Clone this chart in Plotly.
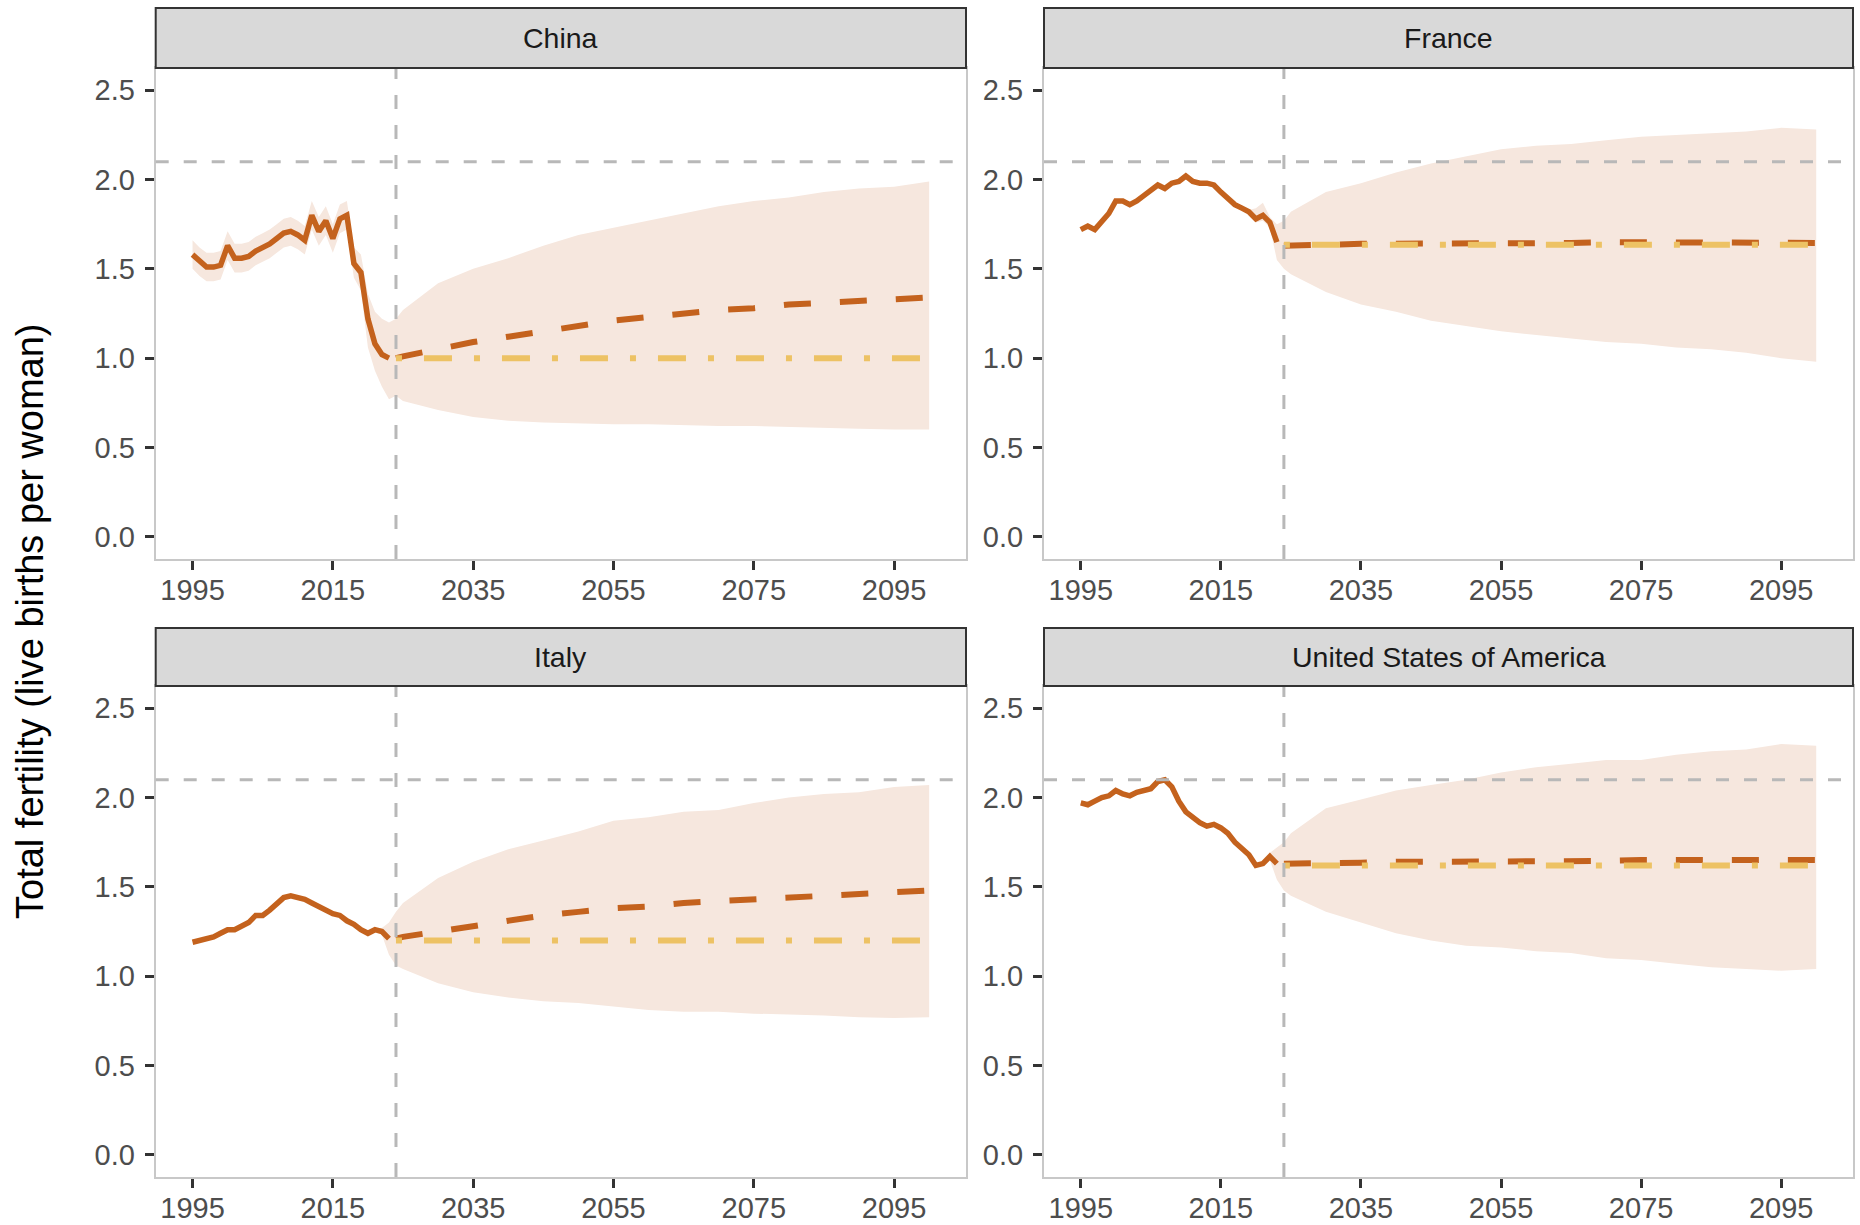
import plotly.graph_objects as go

# ---------------- data ----------------
countries = ["China", "France", "Italy", "United States of America"]

hist_years = list(range(1995, 2024))
tail_years = [2019, 2020, 2021, 2022, 2023]
proj_years = [2024, 2025, 2030, 2035, 2040, 2045, 2050, 2055, 2060, 2065,
              2070, 2075, 2080, 2085, 2090, 2095, 2100]

x_ticks = [1995, 2015, 2035, 2055, 2075, 2095]
y_ticks = [0.0, 0.5, 1.0, 1.5, 2.0, 2.5]

PROJ_START = 2024
REPLACEMENT = 2.1

# China
china_hist = [1.58, 1.54, 1.51, 1.51, 1.52, 1.63, 1.56, 1.56, 1.57, 1.60, 1.62, 1.64, 1.67, 1.70, 1.71,
              1.69, 1.66, 1.80, 1.71, 1.77, 1.67, 1.78, 1.80, 1.53, 1.48, 1.22, 1.08, 1.02, 1.00]
china_hist_hi = [1.66, 1.62, 1.59, 1.59, 1.60, 1.71, 1.64, 1.64, 1.65, 1.68, 1.70, 1.72, 1.75, 1.78, 1.79,
                 1.77, 1.74, 1.88, 1.79, 1.85, 1.75, 1.86, 1.88, 1.62, 1.58, 1.36, 1.26, 1.22, 1.20]
china_hist_lo = [1.50, 1.46, 1.43, 1.43, 1.44, 1.55, 1.48, 1.48, 1.49, 1.52, 1.54, 1.56, 1.59, 1.62, 1.63,
                 1.61, 1.58, 1.72, 1.63, 1.69, 1.59, 1.70, 1.72, 1.45, 1.38, 1.06, 0.93, 0.84, 0.77]
china_proj_hi = [1.22, 1.27, 1.42, 1.50, 1.56, 1.63, 1.69, 1.73, 1.77, 1.81, 1.85, 1.88, 1.90, 1.93, 1.95, 1.96, 1.99]
china_proj_lo = [0.79, 0.76, 0.71, 0.67, 0.65, 0.64, 0.635, 0.63, 0.63, 0.625, 0.62, 0.62, 0.615, 0.61, 0.605, 0.60, 0.60]
china_median = [1.00, 1.01, 1.05, 1.09, 1.12, 1.15, 1.18, 1.21, 1.23, 1.25, 1.27, 1.28, 1.30, 1.31, 1.32, 1.33, 1.34]
china_const = 1.00

# France
france_hist = [1.72, 1.74, 1.72, 1.76, 1.81, 1.88, 1.88, 1.86, 1.88, 1.91, 1.94, 1.97, 1.95, 1.98, 1.99,
               2.02, 1.99, 1.98, 1.98, 1.97, 1.93, 1.89, 1.86, 1.84, 1.82, 1.78, 1.80, 1.76, 1.65]
france_tail_hi = [1.83, 1.84, 1.87, 1.79, 1.75]
france_tail_lo = [1.81, 1.76, 1.77, 1.73, 1.55]
france_proj_hi = [1.77, 1.82, 1.93, 1.98, 2.04, 2.09, 2.13, 2.17, 2.19, 2.20, 2.22, 2.24, 2.25, 2.26, 2.27, 2.29, 2.28]
france_proj_lo = [1.50, 1.47, 1.37, 1.30, 1.26, 1.21, 1.18, 1.15, 1.13, 1.11, 1.09, 1.08, 1.06, 1.05, 1.03, 1.00, 0.98]
france_median = [1.63, 1.63, 1.635, 1.64, 1.64, 1.64, 1.645, 1.645, 1.645, 1.645, 1.65, 1.65, 1.645, 1.645, 1.645, 1.645, 1.645]
france_const = 1.635

# Italy
italy_hist = [1.19, 1.20, 1.21, 1.22, 1.24, 1.26, 1.26, 1.28, 1.30, 1.34, 1.34, 1.37, 1.41, 1.44, 1.45,
              1.44, 1.43, 1.41, 1.39, 1.37, 1.35, 1.34, 1.31, 1.29, 1.26, 1.24, 1.26, 1.25, 1.21]
italy_tail_hi = [1.27, 1.25, 1.27, 1.27, 1.30]
italy_tail_lo = [1.25, 1.23, 1.25, 1.23, 1.12]
italy_proj_hi = [1.36, 1.41, 1.55, 1.64, 1.71, 1.76, 1.81, 1.87, 1.89, 1.92, 1.93, 1.97, 2.00, 2.02, 2.03, 2.06, 2.07]
italy_proj_lo = [1.06, 1.04, 0.96, 0.91, 0.88, 0.86, 0.85, 0.83, 0.81, 0.80, 0.80, 0.79, 0.785, 0.78, 0.77, 0.765, 0.77]
italy_median = [1.21, 1.22, 1.25, 1.28, 1.31, 1.34, 1.36, 1.38, 1.39, 1.41, 1.42, 1.43, 1.44, 1.45, 1.46, 1.47, 1.48]
italy_const = 1.20

# United States of America
usa_hist = [1.97, 1.96, 1.98, 2.00, 2.01, 2.04, 2.02, 2.01, 2.03, 2.04, 2.05, 2.09, 2.10, 2.06, 1.98,
            1.92, 1.89, 1.86, 1.84, 1.85, 1.83, 1.80, 1.75, 1.71, 1.68, 1.62, 1.63, 1.67, 1.63]
usa_tail_hi = [1.69, 1.63, 1.64, 1.69, 1.72]
usa_tail_lo = [1.67, 1.61, 1.62, 1.65, 1.54]
usa_proj_hi = [1.75, 1.80, 1.94, 1.99, 2.04, 2.07, 2.10, 2.14, 2.17, 2.19, 2.21, 2.21, 2.24, 2.26, 2.27, 2.30, 2.29]
usa_proj_lo = [1.48, 1.45, 1.36, 1.30, 1.24, 1.20, 1.17, 1.16, 1.14, 1.13, 1.10, 1.09, 1.07, 1.05, 1.04, 1.03, 1.04]
usa_median = [1.63, 1.63, 1.63, 1.635, 1.64, 1.64, 1.645, 1.645, 1.645, 1.645, 1.645, 1.65, 1.65, 1.65, 1.65, 1.65, 1.65]
usa_const = 1.62

# ---------------- style ----------------
ORANGE = "#C4621D"
YELLOW = "#EDC264"
RIBBON = "#F6E7DE"
GREY_REF = "#B8B8B8"
FONT = "Liberation Sans, Arial, sans-serif"

W, H = 1860, 1225
col_px = [(155.7, 966.0), (1044.0, 1853.0)]
row_px = [(68.0, 559.0), (686.0, 1177.0)]
strip_px = [(8.0, 68.0), (628.0, 686.0)]

panels = [
    dict(name="China", hist=china_hist, band_years=hist_years, band_hi=china_hist_hi, band_lo=china_hist_lo,
         proj_hi=china_proj_hi, proj_lo=china_proj_lo, median=china_median, const=china_const),
    dict(name="France", hist=france_hist, band_years=tail_years, band_hi=france_tail_hi, band_lo=france_tail_lo,
         proj_hi=france_proj_hi, proj_lo=france_proj_lo, median=france_median, const=france_const),
    dict(name="Italy", hist=italy_hist, band_years=tail_years, band_hi=italy_tail_hi, band_lo=italy_tail_lo,
         proj_hi=italy_proj_hi, proj_lo=italy_proj_lo, median=italy_median, const=italy_const),
    dict(name="United States of America", hist=usa_hist, band_years=tail_years, band_hi=usa_tail_hi,
         band_lo=usa_tail_lo, proj_hi=usa_proj_hi, proj_lo=usa_proj_lo, median=usa_median, const=usa_const),
]

fig = go.Figure()
layout = dict(
    width=W, height=H, autosize=False,
    margin=dict(l=0, r=0, t=0, b=0),
    paper_bgcolor="white", plot_bgcolor="white",
    showlegend=False,
    font=dict(family=FONT),
)

shapes = []
annotations = []

for i, p in enumerate(panels):
    r, c = i // 2, i % 2
    n = i + 1
    xa = "x" if n == 1 else f"x{n}"
    ya = "y" if n == 1 else f"y{n}"
    xkey = "xaxis" if n == 1 else f"xaxis{n}"
    ykey = "yaxis" if n == 1 else f"yaxis{n}"

    x0p, x1p = col_px[c]
    top, bot = row_px[r]
    xd = [x0p / W, x1p / W]
    yd = [(H - bot) / H, (H - top) / H]

    common = dict(showgrid=False, zeroline=False, showline=True, mirror=True,
                  linecolor="#C8C8C8", linewidth=2,
                  ticks="outside", ticklen=9, tickwidth=2.5, tickcolor="#333333",
                  tickfont=dict(family=FONT, size=29, color="#4D4D4D"),
                  automargin=False, fixedrange=True)
    layout[xkey] = dict(domain=xd, anchor=ya, range=[1989.75, 2105.25],
                        tickmode="array", tickvals=x_ticks, ticktext=[str(v) for v in x_ticks],
                        ticklabelstandoff=-5, **common)
    layout[ykey] = dict(domain=yd, anchor=xa, range=[-0.125, 2.625],
                        tickmode="array", tickvals=y_ticks, ticktext=[f"{v:.1f}" for v in y_ticks],
                        ticklabelstandoff=4, **common)

    # uncertainty ribbon
    bx = p["band_years"] + proj_years
    bhi = p["band_hi"] + p["proj_hi"]
    blo = p["band_lo"] + p["proj_lo"]
    fig.add_trace(go.Scatter(x=bx + bx[::-1], y=bhi + blo[::-1], fill="toself",
                             fillcolor=RIBBON, line=dict(width=0), mode="lines",
                             hoverinfo="skip", xaxis=xa, yaxis=ya))
    # historical
    fig.add_trace(go.Scatter(x=hist_years, y=p["hist"], mode="lines",
                             line=dict(color=ORANGE, width=5.5), xaxis=xa, yaxis=ya))
    # median projection
    fig.add_trace(go.Scatter(x=proj_years, y=p["median"], mode="lines",
                             line=dict(color=ORANGE, width=6, dash="27px,29px"), xaxis=xa, yaxis=ya))
    # constant scenario
    fig.add_trace(go.Scatter(x=proj_years, y=[p["const"]] * len(proj_years), mode="lines",
                             line=dict(color=YELLOW, width=6, dash="6px,22px,28px,22px"),
                             xaxis=xa, yaxis=ya))

    # reference lines
    shapes.append(dict(type="line", xref=xa, yref=f"{ya} domain", x0=PROJ_START, x1=PROJ_START,
                       y0=0, y1=1, line=dict(color=GREY_REF, width=3, dash="14px,16px"), layer="above"))
    shapes.append(dict(type="line", xref=f"{xa} domain", yref=ya, x0=0, x1=1,
                       y0=REPLACEMENT, y1=REPLACEMENT,
                       line=dict(color=GREY_REF, width=3, dash="13px,15px"), layer="above"))

    # facet strip
    st, sb = strip_px[r]
    shapes.append(dict(type="rect", xref="paper", yref="paper",
                       x0=xd[0], x1=xd[1], y0=(H - sb) / H, y1=(H - st) / H,
                       fillcolor="#D9D9D9", line=dict(color="#333333", width=2), layer="above"))
    annotations.append(dict(text=p["name"], xref="paper", yref="paper",
                            x=(xd[0] + xd[1]) / 2, y=(H - (st + sb) / 2) / H,
                            xanchor="center", yanchor="middle", showarrow=False,
                            font=dict(family=FONT, size=28.5, color="#1A1A1A")))

annotations.append(dict(text="Total fertility (live births per woman)", xref="paper", yref="paper",
                        x=30 / W, y=(H - 621) / H, xanchor="center", yanchor="middle",
                        textangle=-90, showarrow=False,
                        font=dict(family=FONT, size=38, color="#000000")))

layout["shapes"] = shapes
layout["annotations"] = annotations
fig.update_layout(**layout)

fig.write_html("out.html",
               config={"displayModeBar": False},
               post_script="document.body.style.margin='0';document.body.style.padding='0';"
                           "document.body.style.overflow='hidden';")
